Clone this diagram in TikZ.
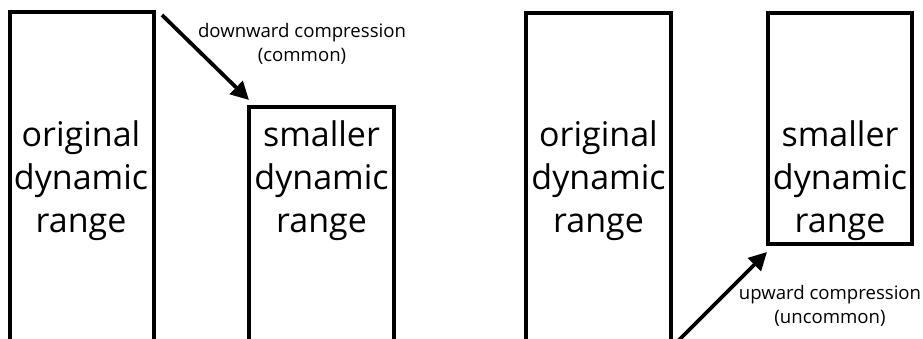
\documentclass[tikz,border=0pt]{standalone}
\usepackage{fontspec}
\setmainfont{Open Sans}
\usetikzlibrary{arrows.meta}

\begin{document}
\begin{tikzpicture}[
  x=1pt, y=1pt,
  bar/.style={
    draw, line width=4pt, rectangle, anchor=north west,
    inner sep=0pt, outer sep=0pt
  },
  big/.style={
    font=\fontsize{34}{43}\selectfont, align=center, inner sep=0pt
  },
  lbl/.style={
    font=\fontsize{18.6}{24.5}\selectfont, align=center, inner sep=0pt
  },
  arr/.style={-{Triangle[length=18pt,width=18pt]}, line width=3.8pt},
]

\clip (0,0) rectangle (923,338);

% downward compression
\node[bar, minimum width=144pt, minimum height=360pt] (orig1)  at (9.5,326) {};
\node[bar, minimum width=145pt, minimum height=260pt] (small1) at (249,231) {};

\node[big] (origtxt1)  at (81,157) {original\\dynamic\\range};
\node[big] (smalltxt1) at (321.5,157) {smaller\\dynamic\\range};

\node[lbl] (down) at (302,294) {downward compression\\(common)};

\draw[arr] ([shift={(8.5pt,-3pt)}]orig1.north east) -- ([shift={(0pt,7pt)}]small1.north west);

% upward compression
\node[bar, minimum width=145pt, minimum height=360pt] (orig2)  at (526,325) {};
\node[bar, minimum width=144pt, minimum height=231pt] (small2) at (768,325) {};

\node[big] (origtxt2)  at (598.5,157) {original\\dynamic\\range};
\node[big] (smalltxt2) at (840,157) {smaller\\dynamic\\range};

\node[lbl] (up) at (830,32) {upward compression\\(uncommon)};

\coordinate (utail) at (672,-9);
\draw[arr] (utail) -- ([shift={(-1pt,-8pt)}]small2.south west);

\end{tikzpicture}
\end{document}
